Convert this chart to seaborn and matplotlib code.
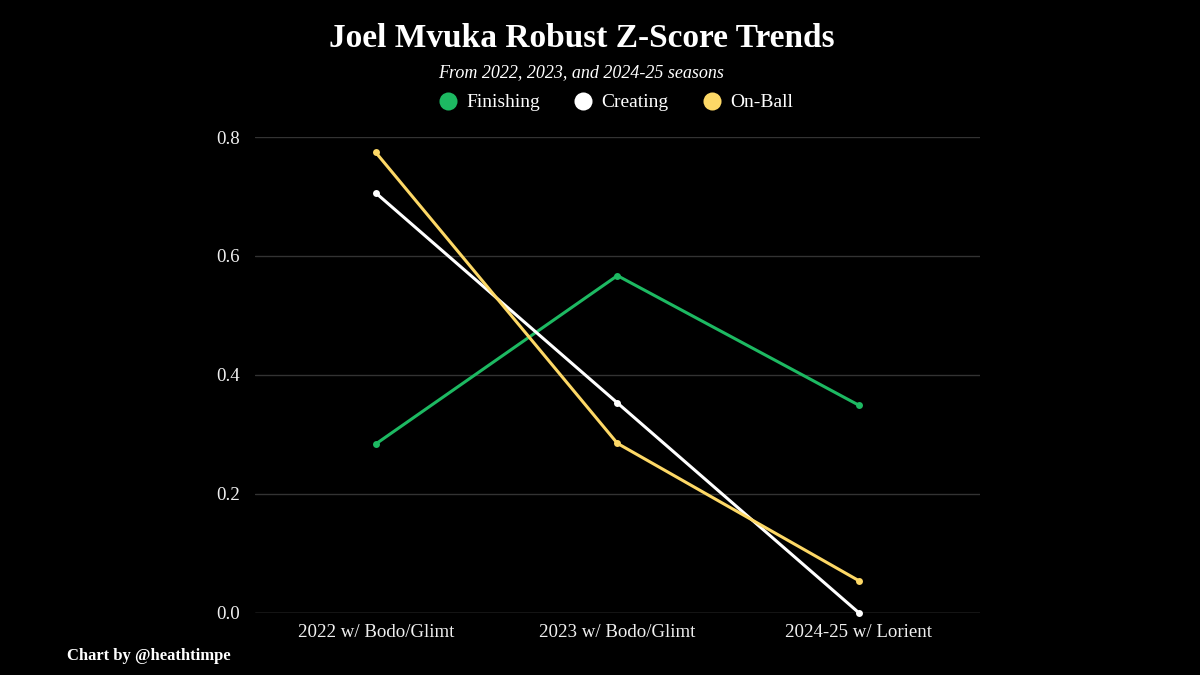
import numpy as np
import pandas as pd
import matplotlib.pyplot as plt
import seaborn as sns
from matplotlib.lines import Line2D

# season labels and robust z-scores
seasons = ['2022 w/ Bodo/Glimt', '2023 w/ Bodo/Glimt', '2024-25 w/ Lorient']
finishing = [0.284, 0.567, 0.349]
creating = [0.706, 0.353, 0.0]
on_ball = [0.774, 0.285, 0.054]
metrics = ['Finishing', 'Creating', 'On-Ball']
colors = ['#1db962', '#ffffff', '#fdd866']

df = pd.DataFrame({
    'season': seasons * 3,
    'x': list(range(len(seasons))) * 3,
    'score': finishing + creating + on_ball,
    'metric': np.repeat(metrics, len(seasons)),
})

sns.set_style('dark')
plt.rcParams['font.family'] = ['Liberation Serif', 'DejaVu Serif']

fig = plt.figure(figsize=(12, 6.75), dpi=100, facecolor='black')
ax = fig.add_axes([0.2125, 0.092, 0.604, 0.705])
ax.set_facecolor('black')

sns.lineplot(data=df, x='x', y='score', hue='metric', hue_order=metrics,
             palette=colors, linewidth=2.2, marker='o', markersize=5,
             markeredgewidth=0, legend=False, ax=ax, clip_on=False)

ax.set_xlim(-0.5, 2.5)
ax.set_ylim(0, 0.8)
ax.set_xticks(range(len(seasons)))
ax.set_xticklabels(seasons)
ax.set_yticks([0.0, 0.2, 0.4, 0.6, 0.8])
ax.set_yticklabels(['0.0', '0.2', '0.4', '0.6', '0.8'])
ax.tick_params(axis='both', length=0, colors='#f0f0f0', labelsize=13.6)
ax.tick_params(axis='x', pad=8)
ax.tick_params(axis='y', pad=11)
ax.set_xlabel('')
ax.set_ylabel('')
ax.grid(axis='y', color='#333333', linewidth=1)
ax.grid(axis='x', visible=False)
for s in ax.spines.values():
    s.set_visible(False)
ax.axhline(0, color='#444444', linewidth=1, zorder=0)

fig.text(0.485, 0.943, 'Joel Mvuka Robust Z-Score Trends', ha='center', va='center',
         color='white', fontsize=24, fontweight='bold')
fig.text(0.484, 0.893, 'From 2022, 2023, and 2024-25 seasons', ha='center', va='center',
         color='white', fontsize=13, style='italic')

handles = [Line2D([0], [0], marker='o', linestyle='', markersize=13,
                  markerfacecolor=c, markeredgewidth=0) for c in colors]
fig.legend(handles, metrics, loc='center', bbox_to_anchor=(0.511, 0.848), ncol=3,
           frameon=False, labelcolor='white', fontsize=14, handletextpad=0.2,
           handlelength=1.5, columnspacing=1.45)

fig.text(0.056, 0.028, 'Chart by @heathtimpe', ha='left', va='center',
         color='white', fontsize=12, fontweight='bold')

plt.savefig('out.png', dpi=100, facecolor='black')
